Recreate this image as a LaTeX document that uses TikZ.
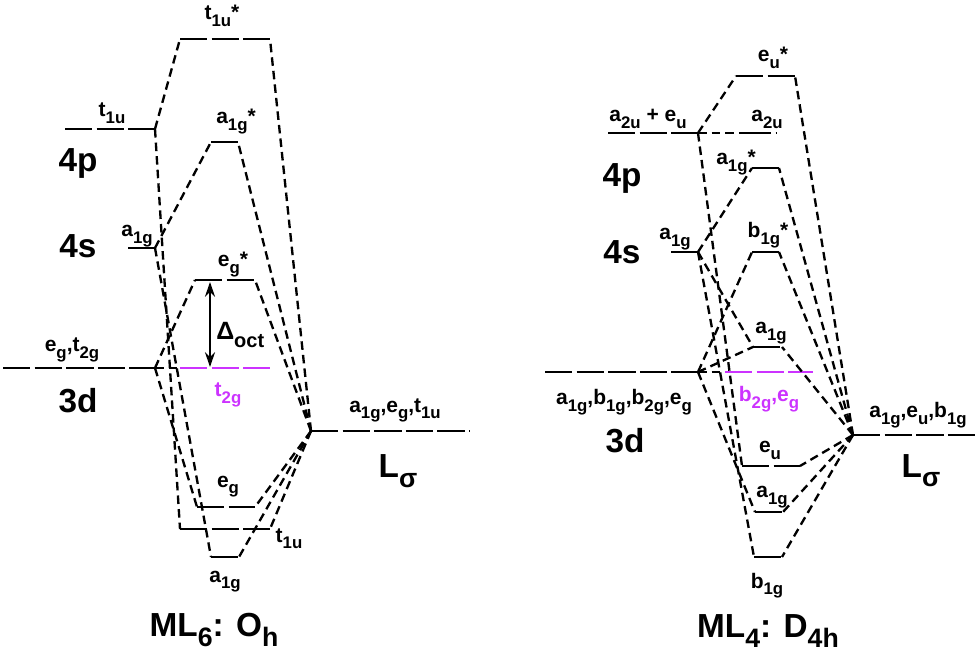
\documentclass[tikz,border=0pt]{standalone}
\usepackage{fontspec}
\setmainfont{Liberation Sans}
\usepackage{graphicx}
\usetikzlibrary{arrows.meta}
\definecolor{splitviolet}{RGB}{204,51,255}

\newcommand{\dn}[1]{\raisebox{-0.3em}{\scalebox{0.8}{#1}}}
\newcommand{\orblevel}[5][]{%
    \coordinate (#2-l) at (#3,#5);
    \coordinate (#2-r) at (#4,#5);
    \draw[orb, #1] (#2-l) -- (#2-r);
}

\begin{document}
\begin{tikzpicture}[
        x=0.75pt, y=-0.75pt,
        orb/.style={line width=2pt, dash pattern=on 20.5pt off 3.2pt},
        corr/.style={line width=1.75pt, dash pattern=on 6.4pt off 3.8pt},
        lab/.style={anchor=base, inner sep=0pt, font=\bfseries\fontsize{15.75}{18}\selectfont},
        shell/.style={anchor=base, inner sep=0pt, font=\bfseries\fontsize{25}{28}\selectfont},
        gaparrow/.style={{Stealth[length=11pt, width=7.5pt]}-{Stealth[length=11pt, width=7.5pt]}, line width=1.6pt}
    ]
    \useasboundingbox (0,0) rectangle (979,652);

    % ML6: Oh
    \orblevel{m4p}{65}{155}{129}
    \orblevel{m4s}{128}{155}{248}
    \orblevel{m3d}{3}{155}{368}
    \orblevel{t1us}{180}{270}{39}
    \orblevel{a1gs}{211}{238}{142}
    \orblevel{egs}{195}{255}{280}
    \orblevel[splitviolet]{t2g}{180}{270}{368}
    \orblevel{eg}{197}{255}{507}
    \orblevel{t1u}{180}{270}{529}
    \orblevel{a1g}{211}{239}{557}
    \orblevel{ligl}{311}{470}{431}

    \foreach \a/\b in {m4p/t1us, m4p/t1u, m4s/a1gs, m4s/a1g, m3d/egs, m3d/t2g, m3d/eg}
        \draw[corr] (\a-r) -- (\b-l);
    \foreach \b in {t1us, a1gs, egs, eg, t1u, a1g}
        \draw[corr] (ligl-l) -- (\b-r);

    \coordinate (gaptop) at (210,282);
    \coordinate (gapbot) at (210,367);
    \draw[gaparrow] (gaptop) -- (gapbot);
    \node[lab, anchor=base west, font=\bfseries\fontsize{18.75}{20}\selectfont] (doct) at (216,340) {Δ\dn{oct}};

    \node[lab] (lt1u) at (112,117) {t\dn{1u}};
    \node[shell] (l4p) at (78,172) {4p};
    \node[lab] (la1g) at (137,237) {a\dn{1g}};
    \node[shell] (l4s) at (78,258) {4s};
    \node[lab] (l3dsym) at (72,352) {e\dn{g},t\dn{2g}};
    \node[shell] (l3d) at (78,413) {3d};
    \node[lab] (lt1us) at (222,20) {t\dn{1u}*};
    \node[lab] (la1gs) at (236,124) {a\dn{1g}*};
    \node[lab] (legs) at (233,267) {e\dn{g}*};
    \node[lab, text=splitviolet] (lt2g) at (228,397) {t\dn{2g}};
    \node[lab] (leg) at (228,487) {e\dn{g}};
    \node[lab] (lt1ub) at (289,542) {t\dn{1u}};
    \node[lab] (la1gb) at (225,582) {a\dn{1g}};
    \node[lab] (lligsym) at (395,412) {a\dn{1g},e\dn{g},t\dn{1u}};
    \node[shell] (llig) at (398,478) {L\dn{σ}};
    \node[shell] (ltitle) at (214,636) {ML\dn{6}: O\dn{h}};

    % ML4: D4h
    \orblevel{r4p}{608}{698}{133}
    \orblevel{r4s}{671}{698}{252}
    \orblevel{r3d}{545}{698}{372}
    \orblevel{eus}{736}{795}{76}
    \orblevel{a2u}{744}{777}{133}
    \orblevel{ra1gs}{752}{779}{168}
    \orblevel{b1gs}{752}{779}{252}
    \orblevel{ra1gm}{753}{782}{347}
    \orblevel[splitviolet]{b2geg}{725}{813}{372}
    \orblevel{eu}{742}{800}{466}
    \orblevel{ra1g}{755}{783}{512}
    \orblevel{b1g}{754}{782}{557}
    \orblevel{ligr}{853}{975}{435}

    \foreach \a/\b in {r4p/eus, r4p/a2u, r4p/eu, r4s/ra1gs, r4s/ra1gm, r4s/b1g, r3d/b1gs, r3d/ra1gm, r3d/b2geg, r3d/ra1g}
        \draw[corr] (\a-r) -- (\b-l);
    \foreach \b in {eus, ra1gs, b1gs, ra1gm, eu, ra1g, b1g}
        \draw[corr] (ligr-l) -- (\b-r);

    \node[lab] (r4psym) at (648,122) {a\dn{2u} + e\dn{u}};
    \node[lab] (ra2u) at (767,122) {a\dn{2u}};
    \node[lab] (reus) at (773,62) {e\dn{u}*};
    \node[shell] (r4plab) at (622,187) {4p};
    \node[lab] (ra1gsl) at (736,165) {a\dn{1g}*};
    \node[lab] (r4ssym) at (675,240) {a\dn{1g}};
    \node[shell] (r4slab) at (622,264) {4s};
    \node[lab] (rb1gs) at (768,238) {b\dn{1g}*};
    \node[lab] (ra1gml) at (771,334) {a\dn{1g}};
    \node[lab] (r3dsym) at (624,405) {a\dn{1g},b\dn{1g},b\dn{2g},e\dn{g}};
    \node[shell] (r3dlab) at (625,452) {3d};
    \node[lab, text=splitviolet] (rb2g) at (769,402) {b\dn{2g},e\dn{g}};
    \node[lab] (reu) at (770,453) {e\dn{u}};
    \node[lab] (ra1gl) at (772,498) {a\dn{1g}};
    \node[lab] (rb1gl) at (767,588) {b\dn{1g}};
    \node[lab] (rligsym) at (918,418) {a\dn{1g},e\dn{u},b\dn{1g}};
    \node[shell] (rlig) at (921,477) {L\dn{σ}};
    \node[shell] (rtitle) at (768,637) {ML\dn{4}: D\dn{4h}};
\end{tikzpicture}
\end{document}
